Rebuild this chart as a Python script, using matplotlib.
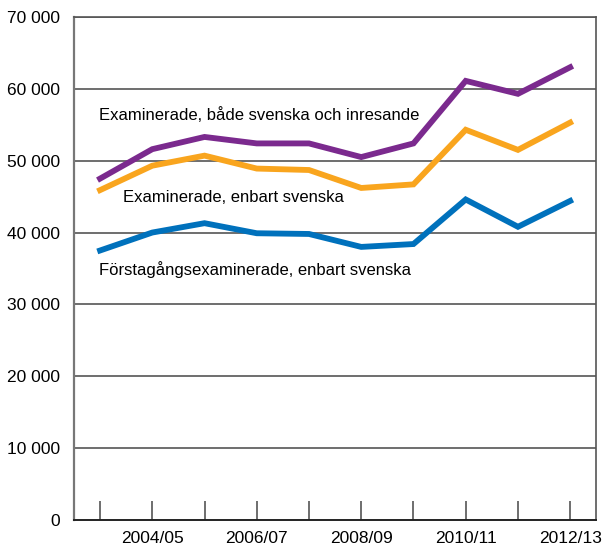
import matplotlib.pyplot as plt

plt.rcParams['font.family'] = ['Liberation Sans', 'DejaVu Sans']

years = ['2003/04', '2004/05', '2005/06', '2006/07', '2007/08',
         '2008/09', '2009/10', '2010/11', '2011/12', '2012/13']
both = [47500, 51600, 53300, 52400, 52400, 50500, 52400, 61100, 59300, 63000]
swedish = [45900, 49300, 50700, 48900, 48700, 46200, 46700, 54300, 51500, 55300]
first_time = [37500, 40000, 41300, 39900, 39800, 38000, 38400, 44600, 40800, 44400]

labels = ['Examinerade, både svenska och inresande',
          'Examinerade, enbart svenska',
          'Förstagångsexaminerade, enbart svenska']
colors = ['#7B2A8E', '#F9A51E', '#0071BC']

fig = plt.figure(figsize=(6.06, 5.46), dpi=100)
ax = fig.add_axes([0.122, 0.0476, 0.862, 0.9214])

x = list(range(len(years)))
for ys, c in zip([both, swedish, first_time], colors):
    ax.plot(x, ys, color=c, lw=4.2, solid_joinstyle='miter', zorder=3)

# line labels
ax.text(-0.02, 56300, labels[0], fontsize=12, ha='left', va='center')
ax.text(0.44, 44900, labels[1], fontsize=12, ha='left', va='center')
ax.text(-0.02, 34800, labels[2], fontsize=12, ha='left', va='center')

ax.set_xlim(-0.5, 9.5)
ax.set_ylim(0, 70000)
yt = list(range(0, 70001, 10000))
ax.set_yticks(yt)
ax.set_yticklabels(['0' if v == 0 else f'{v // 1000} 000' for v in yt], fontsize=12.5)
ax.tick_params(axis='y', length=0, pad=10)
for v in yt[1:]:
    ax.axhline(v, color='#555555', lw=1.2, zorder=1)

ax.set_xticks(x)
ax.set_xticklabels([y if i % 2 == 1 else '' for i, y in enumerate(years)], fontsize=12.5)
ax.tick_params(axis='x', direction='in', length=14, width=1.2, color='#555555', pad=8)

for s in ['top', 'right']:
    ax.spines[s].set_color('#555555')
    ax.spines[s].set_linewidth(1.2)
ax.spines['left'].set_color('#777777')
ax.spines['left'].set_linewidth(1.6)
ax.spines['bottom'].set_color('#222222')
ax.spines['bottom'].set_linewidth(1.4)

fig.savefig('out.png', dpi=100)
